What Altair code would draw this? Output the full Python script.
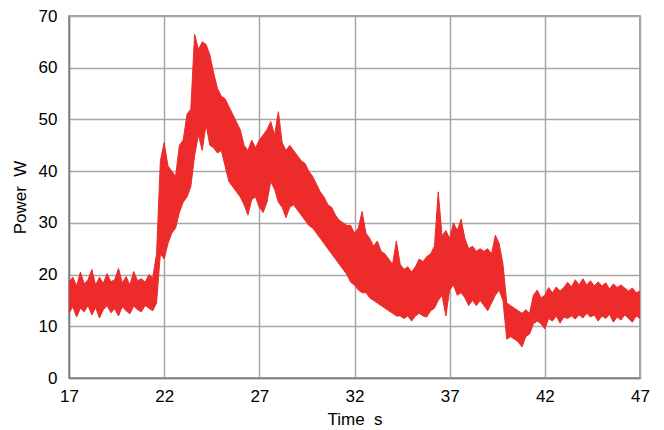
import altair as alt
import pandas as pd

# sampling grid: 0.2 s steps from 17 s
T0 = 17.0
STEP = 0.2

# upper envelope of the power trace (W)
high = [
    # 17.0 - 21.4
    18.5, 19.5, 17.8, 20.5, 18.2, 19.0, 21.0, 18.0, 19.5, 18.3, 20.2, 18.6,
    19.0, 21.2, 18.4, 19.6, 18.0, 20.6, 18.8, 19.2, 18.5, 20.0, 19.4,
    # 21.6 - 23.4
    24.0, 42.0, 45.5, 41.0, 40.0, 39.0, 45.0, 46.0, 51.0, 52.0,
    # 23.6 - 25.4
    66.5, 63.5, 65.0, 64.5, 62.5, 59.0, 56.0, 54.5, 54.0, 52.5,
    # 25.6 - 27.4
    51.0, 49.5, 48.0, 45.0, 44.0, 46.0, 44.5, 46.0, 47.0, 48.0,
    # 27.6 - 29.4
    49.6, 47.0, 51.5, 45.5, 44.0, 45.0, 44.0, 43.0, 42.0, 41.5,
    # 29.6 - 31.4
    40.0, 39.0, 37.5, 36.0, 35.0, 33.5, 33.0, 31.5, 30.5, 30.0,
    # 31.6 - 33.4
    29.5, 29.5, 28.0, 29.0, 32.2, 28.0, 27.0, 25.5, 26.5, 24.5,
    # 33.6 - 35.4
    24.0, 23.0, 22.0, 26.5, 22.0, 21.0, 21.5, 20.5, 21.5, 23.0,
    # 35.6 - 37.4
    22.5, 23.5, 24.0, 25.5, 36.0, 27.5, 28.5, 27.0, 30.0, 28.5,
    # 37.6 - 39.4
    30.7, 27.0, 25.0, 25.5, 24.5, 25.0, 24.5, 25.0, 24.0, 27.6,
    # 39.6 - 41.4
    26.0, 22.0, 14.5, 14.0, 13.5, 13.0, 12.5, 13.2, 12.5, 16.0,
    # 41.6 - 43.4
    17.0, 15.5, 16.0, 17.5, 16.5, 17.6, 16.8, 17.5, 18.5, 17.6,
    # 43.6 - 45.4
    19.0, 18.0, 19.2, 18.0, 18.8, 17.8, 18.6, 17.8, 18.4, 17.2,
    # 45.6 - 47.0
    18.2, 17.5, 18.0, 17.4, 16.8, 17.4, 16.5, 16.8,
]

# lower envelope of the power trace (W)
low = [
    # 17.0 - 21.4
    12.5, 13.8, 11.8, 13.5, 12.8, 14.0, 12.2, 13.6, 11.6, 13.2, 14.0, 12.6,
    13.4, 12.0, 13.8, 13.0, 12.4, 13.9, 13.2, 12.8, 14.0, 13.5, 13.0,
    # 21.6 - 23.4
    14.5, 24.0, 23.0, 26.0, 28.0, 29.0, 32.0, 34.0, 35.0, 37.0,
    # 23.6 - 25.4
    43.0, 47.0, 44.0, 49.0, 45.0, 44.5, 43.5, 44.0, 41.0, 38.0,
    # 25.6 - 27.4
    37.0, 36.0, 35.0, 33.5, 31.5, 34.5, 35.0, 33.0, 32.0, 34.0,
    # 27.6 - 29.4
    38.0, 36.5, 34.0, 33.0, 31.0, 33.0, 33.5, 32.5, 31.5, 30.5,
    # 29.6 - 31.4
    29.5, 29.0, 28.0, 27.0, 26.0, 25.0, 24.0, 23.0, 22.0, 21.0,
    # 31.6 - 33.4
    20.0, 18.5, 18.0, 17.0, 16.5, 16.5, 15.5, 15.0, 14.5, 14.0,
    # 33.6 - 35.4
    13.5, 13.0, 12.5, 12.0, 12.0, 11.5, 12.0, 11.0, 12.0, 12.5,
    # 35.6 - 37.4
    12.0, 11.8, 13.0, 13.5, 15.0, 16.0, 12.0, 17.0, 18.0, 16.0,
    # 37.6 - 39.4
    16.5, 15.5, 14.0, 15.0, 14.0, 15.0, 14.0, 13.0, 14.5, 16.0,
    # 39.6 - 41.4
    17.0, 15.0, 7.5, 8.0, 7.5, 7.0, 6.0, 8.0, 8.5, 10.5,
    # 41.6 - 43.4
    11.0, 10.5, 9.5, 11.5, 11.0, 12.0, 10.6, 11.8, 11.5, 12.0,
    # 43.6 - 45.4
    11.4, 12.2, 11.6, 12.5, 11.8, 12.2, 11.0, 12.0, 11.5, 12.3,
    # 45.6 - 47.0
    10.8, 11.8, 11.2, 12.2, 11.5, 10.8, 12.0, 11.5,
]

x_ticks = [17, 22, 27, 32, 37, 42, 47]
y_ticks = [0, 10, 20, 30, 40, 50, 60, 70]

assert len(high) == len(low)
times = [round(T0 + STEP * i, 2) for i in range(len(high))]
df = pd.DataFrame({"t": times, "lo": low, "hi": high})

RED = "#ee2b2b"
FONT = "Liberation Sans"

band = alt.Chart(df).mark_area(color=RED, opacity=1, interpolate="linear").encode(
    x=alt.X("t:Q", scale=alt.Scale(domain=[17, 47], nice=False),
            axis=alt.Axis(values=x_ticks, title="Time\u00a0\u00a0s", format="d",
                          grid=True, gridColor="#a6a6a6", gridWidth=1.5,
                          domainColor="#808080", domainWidth=1.5, ticks=False,
                          labelFlush=False, labelOverlap=False,
                          labelPadding=10, titlePadding=7)),
    y=alt.Y("lo:Q", scale=alt.Scale(domain=[0, 70], nice=False),
            axis=alt.Axis(values=y_ticks, title="Power\u00a0\u00a0W",
                          grid=True, gridColor="#a6a6a6", gridWidth=1.5,
                          domainColor="#808080", domainWidth=1.5, ticks=False,
                          labelFlush=False, labelOverlap=False,
                          labelPadding=12, titlePadding=9)),
    y2="hi:Q",
)

edge = alt.Chart(df).mark_line(color=RED, strokeWidth=1).encode(
    x="t:Q", y="hi:Q"
)
edge2 = alt.Chart(df).mark_line(color=RED, strokeWidth=1).encode(
    x="t:Q", y="lo:Q"
)

chart = alt.layer(band, edge, edge2).properties(
    width=571, height=362,
    autosize=alt.AutoSizeParams(type="none"),
    padding={"left": 69, "top": 16, "right": 24, "bottom": 52},
    background="white",
).configure_view(
    stroke="#808080", strokeWidth=1.5
).configure_axis(
    labelFont=FONT, titleFont=FONT, labelFontSize=17, titleFontSize=17,
    labelColor="#000000", titleColor="#000000", titleFontWeight="normal",
)

chart.save("out.html", embed_options={"renderer": "svg", "actions": False})
